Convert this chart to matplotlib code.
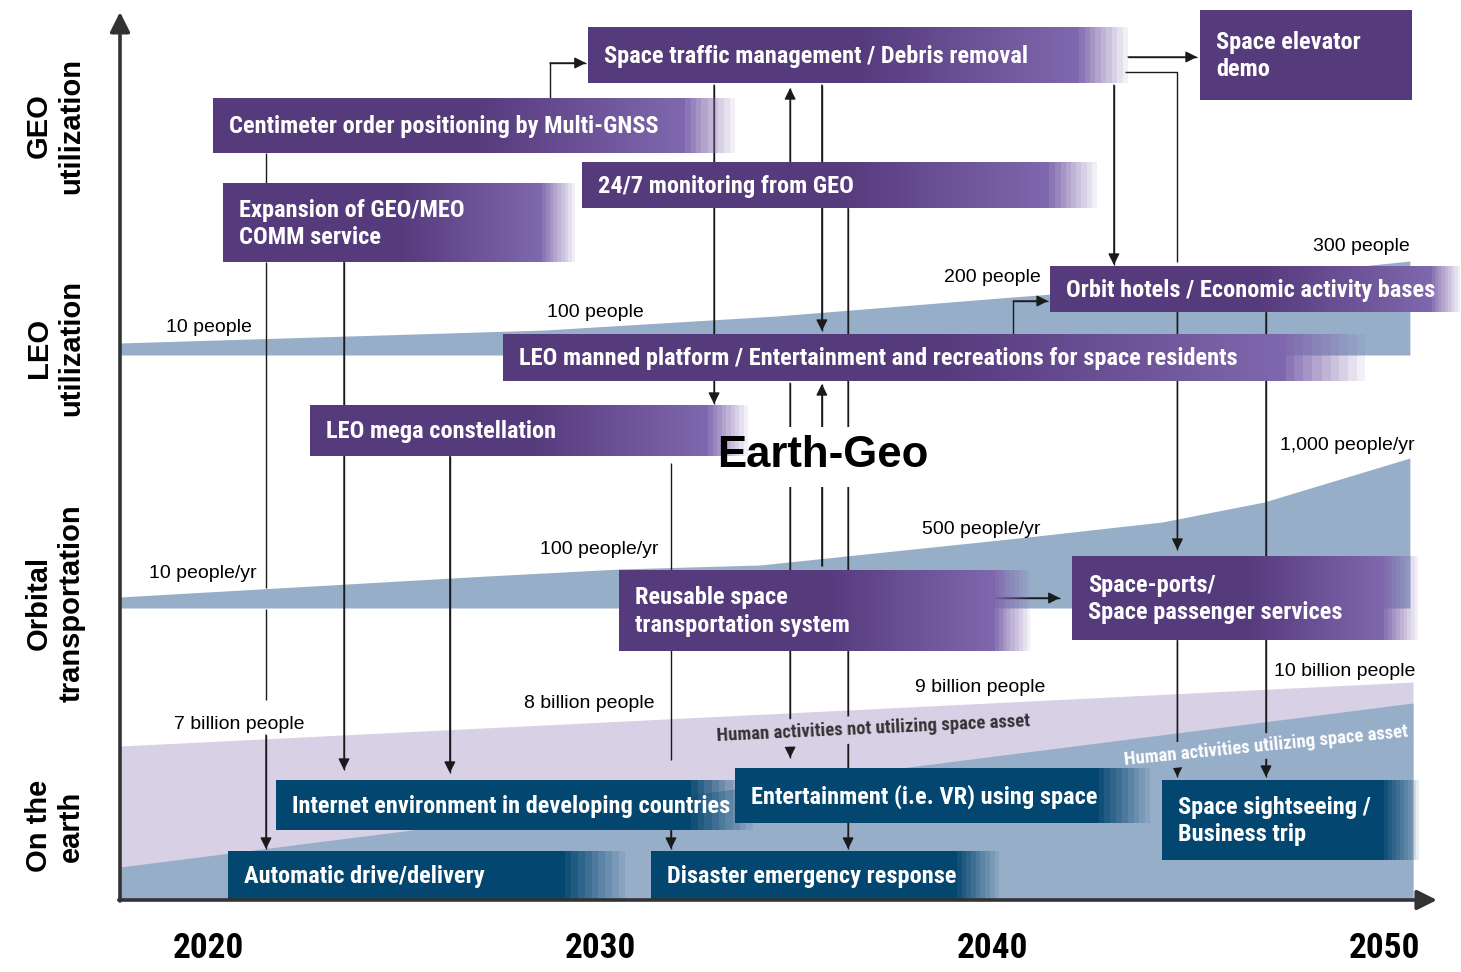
import numpy as np
import matplotlib
matplotlib.use("Agg")
import matplotlib.pyplot as plt
from matplotlib import font_manager as fm
from matplotlib.colors import to_rgb
from matplotlib.patches import Rectangle


def pick_narrow():
    fonts = fm.fontManager.ttflist
    names = {f.name for f in fonts}
    for p in ['Liberation Sans Narrow', 'Arial Narrow', 'Roboto Condensed',
              'Noto Sans Condensed', 'Open Sans Condensed', 'DejaVu Sans Condensed']:
        if p in names:
            return dict(family=[p, 'DejaVu Sans']), 1.0
    for f in fonts:
        if 'Narrow' in f.name or 'Condensed' in f.name:
            return dict(family=[f.name, 'DejaVu Sans']), 1.0
    for f in fonts:
        if f.stretch in ('condensed', 'semi-condensed', 'extra-condensed'):
            return dict(family=[f.name, 'DejaVu Sans'], fontstretch=f.stretch), 1.0
    return dict(family=['Liberation Sans', 'DejaVu Sans']), 0.84


NARROW, NSCALE = pick_narrow()
REG = dict(family=['Liberation Sans', 'DejaVu Sans'])

PURPLE = '#553a7c'
PURPLE_LT = '#7f67ad'
NAVY = '#03466f'
BAND = '#97aec9'
LAV = '#d8d0e5'

# ---- data ----
years = [2020, 2030, 2040, 2050]
rows = ["GEO\nutilization", "LEO\nutilization", "Orbital\ntransportation", "On the\nearth"]

leo_yr = [2017.75, 2028.6, 2034.5, 2040.2, 2045.5, 2050.66]
leo_top = [343, 330, 316, 298, 282, 261]
leo_bottom = 355

orb_yr = [2017.75, 2027.12, 2030.51, 2034.08, 2040.92, 2044.34, 2046.94, 2050.66]
orb_top = [597, 576, 569, 565, 537, 522, 502, 458]
orb_bottom = 608

earth_yr = [2017.75, 2050.74]
earth_all = [746, 682]      # all human activities
earth_space = [867, 703]    # activities utilizing space asset

leo_labels = ["10 people", "100 people", "200 people", "300 people"]
orb_labels = ["10 people/yr", "100 people/yr", "500 people/yr", "1,000 people/yr"]
pop_labels = ["7 billion people", "8 billion people", "9 billion people", "10 billion people"]

milestones = [
    "Space traffic management / Debris removal",
    "Space elevator\ndemo",
    "Centimeter order positioning by Multi-GNSS",
    "24/7 monitoring from GEO",
    "Expansion of GEO/MEO\nCOMM service",
    "Orbit hotels / Economic activity bases",
    "LEO manned platform / Entertainment and recreations for space residents",
    "LEO mega constellation",
    "Reusable space\ntransportation system",
    "Space-ports/\nSpace passenger services",
    "Internet environment in developing countries",
    "Entertainment (i.e. VR) using space",
    "Space sightseeing /\nBusiness trip",
    "Automatic drive/delivery",
    "Disaster emergency response",
]
start_yr = [2029.69, 2045.31, 2020.13, 2029.54, 2020.38, 2041.48, 2027.53, 2022.60,
            2030.48, 2042.04, 2021.73, 2033.44, 2044.34, 2020.51, 2031.30]
end_yr = [2043.47, 2050.71, 2033.47, 2042.70, 2029.36, 2051.96, 2049.57, 2033.78,
          2040.97, 2050.87, 2033.90, 2044.03, 2050.92, 2030.64, 2040.20]

# ---- layout ----
PX = 39.2  # pixels per year
XMIN = 2020 - 208 / PX
XMAX = 2020 + (1461 - 208) / PX
AX0 = 2017.755

box_rows = [(27, 83), (10, 100), (98, 153), (163, 208), (184, 262), (266, 312), (334, 381),
            (405, 456), (570, 651), (556, 640), (780, 830), (768, 823), (780, 860),
            (851, 899), (851, 899)]
box_kind = ['p', 's', 'p', 'p', 'p', 'p', 'p', 'p', 'p', 'p', 'b', 'b', 'b', 'b', 'b']
box_fade = [55, 0, 56, 53, 37, 32, 90, 45, 40, 38, 70, 58, 40, 68, 48]

fig = plt.figure(figsize=(14.61, 9.72), dpi=100)
ax = fig.add_axes([0, 0, 1, 1])
ax.axis('off')

# bands
ax.fill_between(leo_yr, leo_top, leo_bottom, color=BAND, lw=0, zorder=1)
ax.fill_between(orb_yr, orb_top, orb_bottom, color=BAND, lw=0, zorder=1)
ax.fill_between(earth_yr, earth_all, 900, color=LAV, lw=0, zorder=1)
ax.fill_between(earth_yr, earth_space, 900, color=BAND, lw=0, zorder=1)


def gbox(x0, x1, y0, y1, kind, fade):
    n = 500
    xs = np.linspace(x0, x1, n)
    if kind == 'b':
        c0, c1 = np.array(to_rgb(NAVY)), np.array(to_rgb(NAVY))
    elif kind == 's':
        c0, c1 = np.array(to_rgb(PURPLE)), np.array(to_rgb(PURPLE))
    else:
        c0, c1 = np.array(to_rgb(PURPLE)), np.array(to_rgb(PURPLE_LT))
    img = np.zeros((1, n, 4))
    if fade > 0:
        fw = fade / PX
        xm = x0 + 0.5 * (x1 - x0)
        w = np.clip((xs - xm) / (x1 - fw - xm), 0, 1)
        alpha = np.clip((x1 - xs) / fw, 0, 1)
        alpha = np.ceil(alpha * 10) / 10
    else:
        w = np.zeros(n)
        alpha = np.ones(n)
    img[0, :, :3] = c0 + (c1 - c0) * w[:, None]
    img[0, :, 3] = alpha
    ax.imshow(img, extent=(x0, x1, y1, y0), aspect='auto', interpolation='nearest', zorder=3)


for txt, x0, x1, (y0, y1), k, f in zip(milestones, start_yr, end_yr, box_rows, box_kind, box_fade):
    gbox(x0, x1, y0, y1, k, f)
    ax.annotate(txt, xy=(x0, (y0 + y1) / 2 + 1), xytext=(11.5, 0), textcoords='offset points',
                ha='left', va='center', color='white', fontsize=17.6 * NSCALE, fontweight='bold',
                linespacing=1.25, zorder=5, **NARROW)

# connectors
LC = '#1a1a1a'
links = [
    ([2021.48, 2021.48], [153, 184], False),
    ([2021.48, 2021.48], [262, 588], False),
    ([2021.48, 2021.48], [609, 700], False),
    ([2021.48, 2021.48], [735, 849], True),
    ([2023.47, 2023.47], [262, 770], True),
    ([2026.17, 2026.17], [456, 773], True),
    ([2028.72, 2028.72, 2029.64], [98, 63, 63], True),
    ([2031.81, 2031.81], [463, 760], False),
    ([2031.81, 2031.81], [830, 849], True),
    ([2032.91, 2032.91], [85, 404], True),
    ([2034.85, 2034.85], [163, 88], True),
    ([2034.85, 2034.85], [383, 758], True),
    ([2035.66, 2035.66], [85, 331], True),
    ([2035.66, 2035.66], [566, 384], True),
    ([2036.33, 2036.33], [208, 849], True),
    ([2040.54, 2040.54, 2041.43], [334, 301, 301], True),
    ([2043.11, 2043.11], [85, 265], True),
    ([2043.47, 2045.23], [57, 57], True),
    ([2043.40, 2044.73, 2044.73], [72, 72, 262], False),
    ([2044.73, 2044.73], [312, 550], True),
    ([2046.99, 2046.99], [312, 777], True),
    ([2044.73, 2044.73], [640, 777], True),
    ([2040.05, 2041.73], [598, 598], True),
]
for xs, ys, arr in links:
    ax.plot(xs, ys, color=LC, lw=1.0, zorder=2, solid_capstyle='butt')
    if arr:
        ax.annotate('', xy=(xs[-1], ys[-1]), xytext=(xs[-2], ys[-2]),
                    arrowprops=dict(arrowstyle='-|>', color=LC, lw=1.0, mutation_scale=17,
                                    shrinkA=0, shrinkB=0), zorder=2)

# masks behind texts that break the lines
ax.add_patch(Rectangle((2034.34, 427), 2.55, 60, facecolor='white', edgecolor='none', zorder=2.5))
ax.text(2032.98, 455, "Earth-Geo", ha='left', va='center', fontsize=31.5, fontweight='bold',
        zorder=6, **REG)

ax.text(2036.96, 729, "Human activities not utilizing space asset", rotation=2.7,
        rotation_mode='anchor', ha='center', va='center', fontsize=13.5 * NSCALE, fontweight='bold',
        color='#333333', zorder=2.6,
        bbox=dict(boxstyle='square,pad=0.25', fc=LAV, ec='none'), **NARROW)
ax.text(2046.99, 746, "Human activities utilizing space asset", rotation=5.7,
        rotation_mode='anchor', ha='center', va='center', fontsize=13.5 * NSCALE, fontweight='bold',
        color='white', zorder=2.6,
        bbox=dict(boxstyle='square,pad=0.2', fc=BAND, ec='none'), **NARROW)

# population labels
leo_pos = [(2021.12, 327), (2031.12, 312), (2041.25, 277), (2050.66, 246)]
orb_pos = [(2021.25, 573), (2031.48, 549), (2041.25, 529), (2050.79, 445)]
pop_pos = [(2022.47, 724), (2031.40, 703), (2041.35, 687), (2050.79, 671)]
for labels, pos in [(leo_labels, leo_pos), (orb_labels, orb_pos), (pop_labels, pop_pos)]:
    for lab, (x, y) in zip(labels, pos):
        ax.text(x, y, lab, ha='right', va='center', fontsize=14, color='black', zorder=4, **REG)

# axes arrows
ax.annotate('', xy=(AX0, 12), xytext=(AX0, 901),
            arrowprops=dict(arrowstyle='-|>', color='#333333', lw=2.6, mutation_scale=30,
                            shrinkA=0, shrinkB=0), zorder=7)
ax.annotate('', xy=(2051.35, 900), xytext=(AX0 - 0.03, 900),
            arrowprops=dict(arrowstyle='-|>', color='#333333', lw=2.6, mutation_scale=30,
                            shrinkA=0, shrinkB=0), zorder=7)

# year labels
for yr in years:
    ax.text(yr, 948, str(yr), ha='center', va='center', fontsize=25.5 * NSCALE, fontweight='bold',
            **NARROW)

# row labels
row_y = [126, 348, 603, 826]
for lab, y in zip(rows, row_y):
    ax.text(55 / PX + XMIN, y, lab, rotation=90, ha='center', va='center', multialignment='center',
            fontsize=21, fontweight='bold', linespacing=1.2, **REG)

ax.set_xlim(XMIN, XMAX)
ax.set_ylim(972, 0)
fig.savefig("out.png", dpi=100)
